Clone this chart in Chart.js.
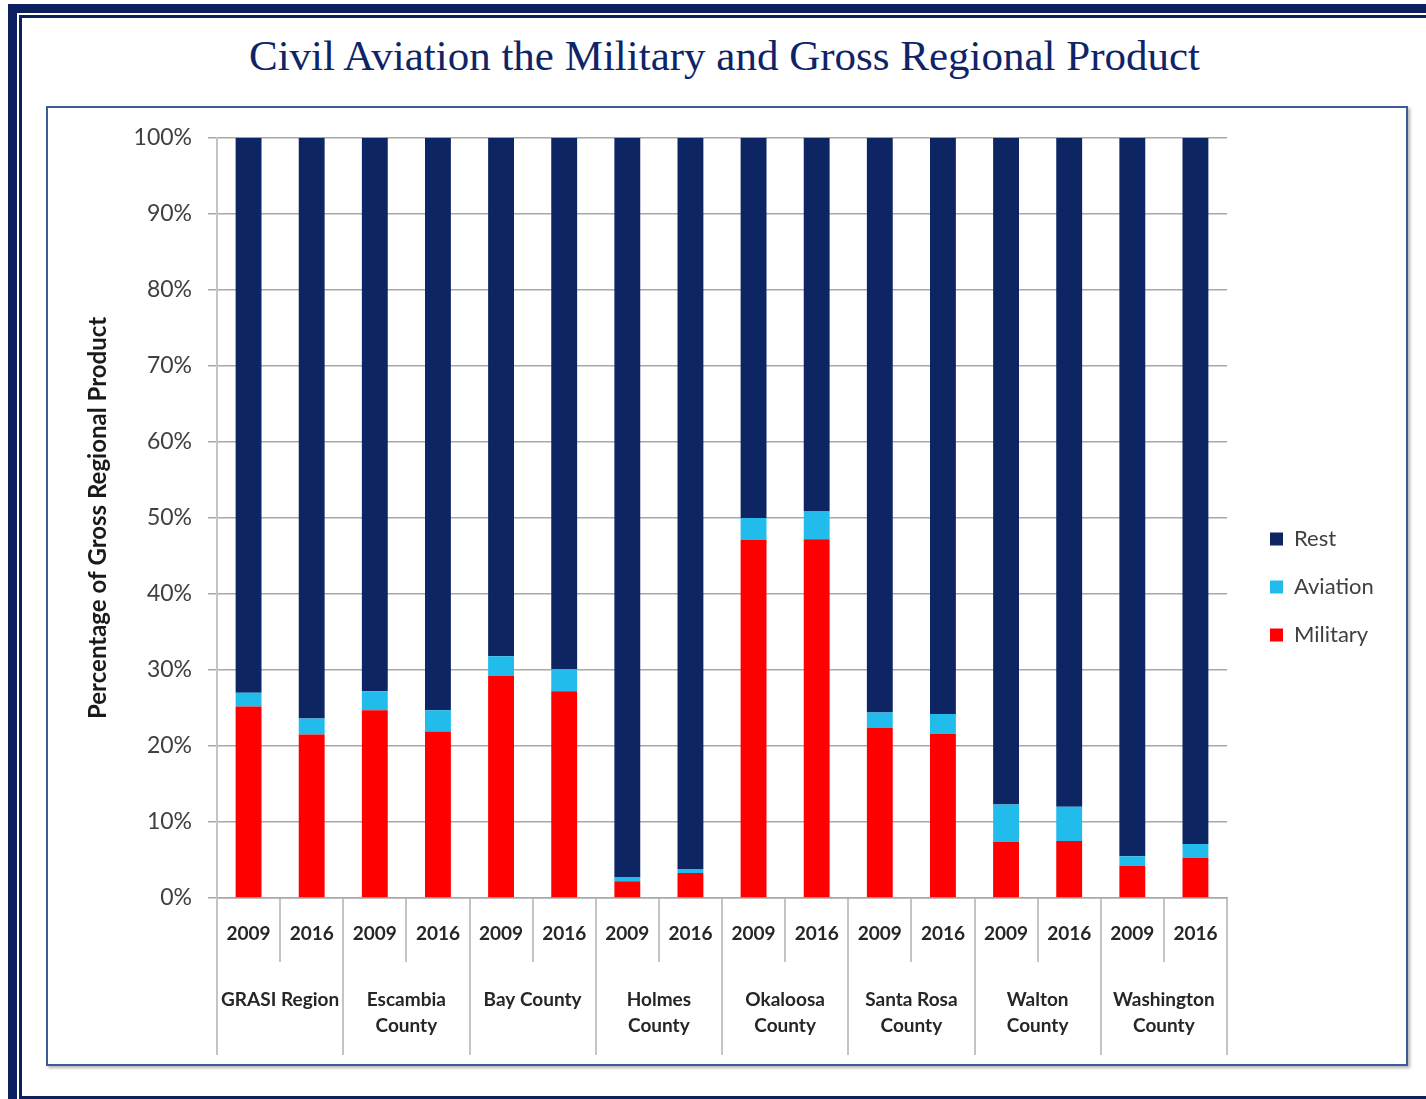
<!DOCTYPE html>
<html>
<head>
<meta charset="utf-8">
<script src="https://cdn.jsdelivr.net/npm/chart.js@4.4.1/dist/chart.umd.min.js"></script>
<style>
  html, body { margin: 0; padding: 0; background: #fff; overflow: hidden; }
  body { width: 1426px; height: 1099px; position: relative; }
  .frame1 { position: absolute; left: 8px; top: 4px; width: 1440px; height: 1120px; border: 9px solid #0c1f5e; box-sizing: border-box; }
  .frame2 { position: absolute; left: 19px; top: 15px; width: 1440px; height: 1084px; border: 3px solid #0c1f5e; box-sizing: border-box; }
  .title { position: absolute; left: 0; width: 1449px; top: 34px; line-height: 43px; text-align: center;
           font-family: "Liberation Serif", serif; font-size: 43px; color: #0f2467; }
  .plotframe { position: absolute; left: 46px; top: 106px; width: 1362px; height: 960px; box-sizing: border-box;
               border: 2px solid #3f5b93; box-shadow: 2px 2px 3px rgba(0,0,0,0.3); background: #fff; }
  #chart { position: absolute; left: 48px; top: 108px; }
</style>
</head>
<body>
<div class="frame1"></div>
<div class="frame2"></div>
<div class="title">Civil Aviation the Military and Gross Regional Product</div>
<div class="plotframe"></div>
<canvas id="chart" width="1359" height="957"></canvas>
<script>
// values, percent of gross regional product
const years = ["2009", "2016", "2009", "2016", "2009", "2016", "2009", "2016",
               "2009", "2016", "2009", "2016", "2009", "2016", "2009", "2016"];
const regions = [["GRASI Region"], ["Escambia", "County"], ["Bay County"], ["Holmes", "County"],
                 ["Okaloosa", "County"], ["Santa Rosa", "County"], ["Walton", "County"], ["Washington", "County"]];
const military = [25.2, 21.5, 24.7, 21.9, 29.2, 27.2, 2.2, 3.3, 47.1, 47.2, 22.4, 21.6, 7.4, 7.5, 4.2, 5.3];
const aviation = [1.8, 2.1, 2.5, 2.8, 2.6, 2.9, 0.5, 0.5, 2.9, 3.7, 2.0, 2.6, 4.9, 4.5, 1.3, 1.8];
const rest = [73.0, 76.4, 72.8, 75.3, 68.2, 69.9, 97.3, 96.2, 50.0, 49.1, 75.6, 75.8, 87.7, 88.0, 94.5, 92.9];

Chart.defaults.font.family = "Lato";

const tickGrey = "#c4c4c4";

new Chart(document.getElementById("chart"), {
    type: "bar",
    data: {
        labels: years,
        datasets: [
            { label: "Military", data: military, backgroundColor: "#fe0000" },
            { label: "Aviation", data: aviation, backgroundColor: "#22bcec" },
            { label: "Rest", data: rest, backgroundColor: "#0d2563" }
        ]
    },
    options: {
        responsive: false,
        animation: false,
        layout: { padding: { left: 0, top: 28, right: 33, bottom: 27 } },
        datasets: { bar: { barPercentage: 0.41, categoryPercentage: 1 } },
        plugins: {
            tooltip: { enabled: false },
            legend: {
                position: "right",
                reverse: true,
                maxWidth: 130,
                labels: {
                    boxWidth: 13, boxHeight: 13, padding: 26,
                    color: "#404040",
                    font: { size: 22 }
                }
            }
        },
        scales: {
            x: {
                stacked: true,
                weight: 0,
                offset: true,
                grid: { offset: true, drawOnChartArea: false, tickLength: 64, color: tickGrey, lineWidth: 2 },
                border: { display: true, color: "#a8a8a8", width: 1.5 },
                ticks: { autoSkip: false, maxRotation: 0, padding: -40, color: "#262626", font: { size: 19, weight: "bold" } },
                afterFit: s => { s.height = 64; }
            },
            x2: {
                type: "category",
                position: "bottom",
                weight: 1,
                labels: regions,
                offset: true,
                grid: { offset: true, drawOnChartArea: false, tickLength: 93, color: tickGrey, lineWidth: 2 },
                border: { display: false },
                ticks: { autoSkip: false, maxRotation: 0, padding: -68, color: "#262626",
                         font: { size: 19, weight: "bold", lineHeight: "26px" } },
                afterFit: s => { s.height = 76; }
            },
            y: {
                stacked: true,
                min: 0,
                max: 100,
                ticks: { stepSize: 10, padding: 16, color: "#404040", font: { size: 23 }, callback: v => v + "%" },
                grid: { color: "#a8a8a8", lineWidth: 1.5, tickLength: 9 },
                border: { display: true, color: "#c4c4c4", width: 2 },
                title: {
                    display: true,
                    text: "Percentage of Gross Regional Product",
                    color: "#1a1a1a",
                    font: { size: 24, weight: "bold" },
                    padding: { top: 36, bottom: 0 }
                },
                afterFit: s => { s.width = 169; }
            },
            y2: {
                type: "linear",
                position: "right",
                grid: { display: false },
                border: { display: false },
                ticks: { display: false },
                afterFit: s => { s.width = 17; }
            }
        }
    }
});
</script>
</body>
</html>
